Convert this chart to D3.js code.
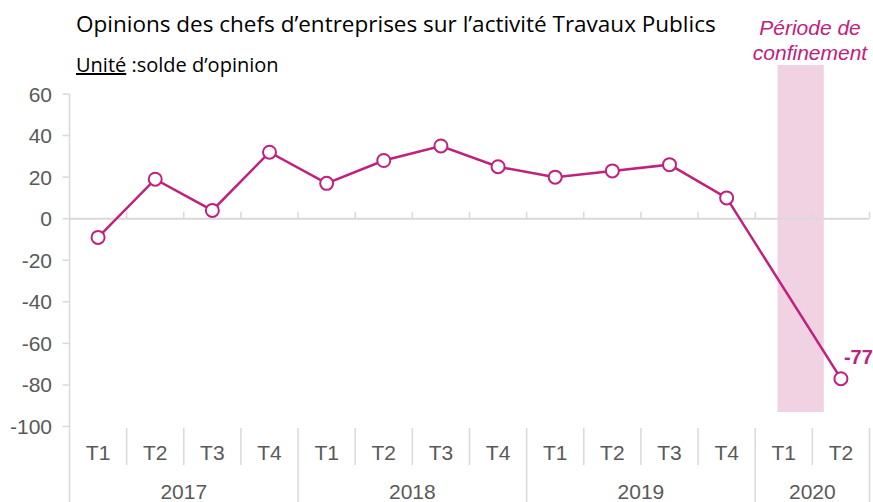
<!DOCTYPE html>
<html>
<head>
<meta charset="utf-8">
<script src="https://cdn.jsdelivr.net/npm/d3@7"></script>
<style>
  body { margin: 0; background: #fff; }
  svg { display: block; }
</style>
</head>
<body>
<script>
'use strict';

const quarters = ['T1', 'T2', 'T3', 'T4', 'T1', 'T2', 'T3', 'T4', 'T1', 'T2', 'T3', 'T4', 'T1', 'T2'];
const years = [
  { year: '2017', start: 0, end: 4 },
  { year: '2018', start: 4, end: 8 },
  { year: '2019', start: 8, end: 12 },
  { year: '2020', start: 12, end: 14 }
];
// solde d'opinion (T1 2020 absent)
const values = [-9, 19, 4, 32, 17, 28, 35, 25, 20, 23, 26, 10, null, -77];
const yTicks = [60, 40, 20, 0, -20, -40, -60, -80, -100];
// période de confinement, en fraction d'index de trimestre
const confinement = [12.39, 13.2];

(function() {
  const width = 873, height = 502;
  const plotLeft = 69.5, plotRight = 869.5, plotTop = 94, plotBottom = 426.5;
  const pink = '#c0207e';
  const grey = '#d9d9d9';
  const textGrey = '#595959';
  const arial = '"Liberation Sans", Arial, sans-serif';

  const svg = d3.select('body').append('svg')
    .attr('width', width)
    .attr('height', height);

  const x = d3.scaleBand()
    .domain(d3.range(quarters.length))
    .range([plotLeft, plotRight]);
  const xFrac = d3.scaleLinear()
    .domain([0, quarters.length])
    .range([plotLeft, plotRight]);
  const y = d3.scaleLinear()
    .domain([-100, 60])
    .range([plotBottom, plotTop]);

  // shaded lockdown area
  svg.append('rect')
    .attr('x', xFrac(confinement[0]))
    .attr('y', 65)
    .attr('width', xFrac(confinement[1]) - xFrac(confinement[0]))
    .attr('height', 412 - 65)
    .attr('fill', '#f0d2e3');

  // y axis
  svg.append('line')
    .attr('x1', plotLeft).attr('x2', plotLeft)
    .attr('y1', plotTop).attr('y2', height)
    .attr('stroke', grey).attr('stroke-width', 1.5);

  svg.selectAll('.ytick')
    .data(yTicks)
    .enter()
    .append('line')
    .attr('x1', plotLeft - 7).attr('x2', plotLeft)
    .attr('y1', d => y(d)).attr('y2', d => y(d))
    .attr('stroke', grey).attr('stroke-width', 1.5);

  svg.selectAll('.ylabel')
    .data(yTicks)
    .enter()
    .append('text')
    .attr('x', 52)
    .attr('y', d => y(d) + 7.5)
    .attr('text-anchor', 'end')
    .style('font-family', arial)
    .style('font-size', '21px')
    .attr('fill', textGrey)
    .text(d => d);

  // zero line with boundary ticks
  svg.append('line')
    .attr('x1', plotLeft).attr('x2', plotRight)
    .attr('y1', y(0)).attr('y2', y(0))
    .attr('stroke', grey).attr('stroke-width', 2);

  svg.selectAll('.xtick')
    .data(d3.range(1, quarters.length + 1))
    .enter()
    .append('line')
    .attr('x1', d => xFrac(d)).attr('x2', d => xFrac(d))
    .attr('y1', y(0) - 7).attr('y2', y(0))
    .attr('stroke', grey).attr('stroke-width', 1.5);

  // category axis (quarters and years)
  const yearBounds = years.map(d => d.end);
  svg.selectAll('.qsep')
    .data(d3.range(1, quarters.length + 1))
    .enter()
    .append('line')
    .attr('x1', d => xFrac(d)).attr('x2', d => xFrac(d))
    .attr('y1', 428)
    .attr('y2', d => yearBounds.includes(d) ? height : 465)
    .attr('stroke', grey).attr('stroke-width', 1.5);

  svg.selectAll('.qlabel')
    .data(quarters)
    .enter()
    .append('text')
    .attr('x', (d, i) => x(i) + x.bandwidth() / 2)
    .attr('y', 459.5)
    .attr('text-anchor', 'middle')
    .style('font-family', arial)
    .style('font-size', '21px')
    .attr('fill', textGrey)
    .text(d => d);

  svg.selectAll('.yearlabel')
    .data(years)
    .enter()
    .append('text')
    .attr('x', d => (xFrac(d.start) + xFrac(d.end)) / 2)
    .attr('y', 499)
    .attr('text-anchor', 'middle')
    .style('font-family', arial)
    .style('font-size', '21px')
    .attr('fill', textGrey)
    .text(d => d.year);

  // series
  const pts = values
    .map((v, i) => ({ i: i, v: v }))
    .filter(d => d.v !== null);

  const line = d3.line()
    .x(d => x(d.i) + x.bandwidth() / 2)
    .y(d => y(d.v));

  svg.append('path')
    .datum(pts)
    .attr('d', line)
    .attr('fill', 'none')
    .attr('stroke', pink)
    .attr('stroke-width', 2.5);

  svg.selectAll('.dot')
    .data(pts)
    .enter()
    .append('circle')
    .attr('cx', d => x(d.i) + x.bandwidth() / 2)
    .attr('cy', d => y(d.v))
    .attr('r', 6.5)
    .attr('fill', '#fff')
    .attr('stroke', pink)
    .attr('stroke-width', 2);

  // last value label
  const last = pts[pts.length - 1];
  svg.append('text')
    .attr('x', x(last.i) + x.bandwidth() / 2 + 3)
    .attr('y', y(last.v) - 15)
    .style('font-family', arial)
    .style('font-size', '20px')
    .style('font-weight', 'bold')
    .attr('fill', pink)
    .text(last.v);

  // titles
  svg.append('text')
    .attr('x', 76)
    .attr('y', 32)
    .style('font-family', '"Open Sans", "Noto Sans", sans-serif')
    .style('font-size', '22.5px')
    .attr('fill', '#000')
    .text('Opinions des chefs d\u2019entreprises sur l\u2019activit\u00e9 Travaux Publics');

  const sub = svg.append('text')
    .attr('x', 76)
    .attr('y', 72)
    .style('font-family', '"Open Sans", "Noto Sans", sans-serif')
    .style('font-size', '20px')
    .attr('fill', '#000');
  sub.append('tspan').style('text-decoration', 'underline').text('Unit\u00e9');
  sub.append('tspan').text(' :solde d\u2019opinion');

  const conf = svg.append('text')
    .attr('text-anchor', 'middle')
    .style('font-family', arial)
    .style('font-size', '21px')
    .style('font-style', 'italic')
    .attr('fill', pink);
  conf.append('tspan').attr('x', 810).attr('y', 35).text('P\u00e9riode de');
  conf.append('tspan').attr('x', 810).attr('y', 60).text('confinement');
})();
</script>
</body>
</html>
